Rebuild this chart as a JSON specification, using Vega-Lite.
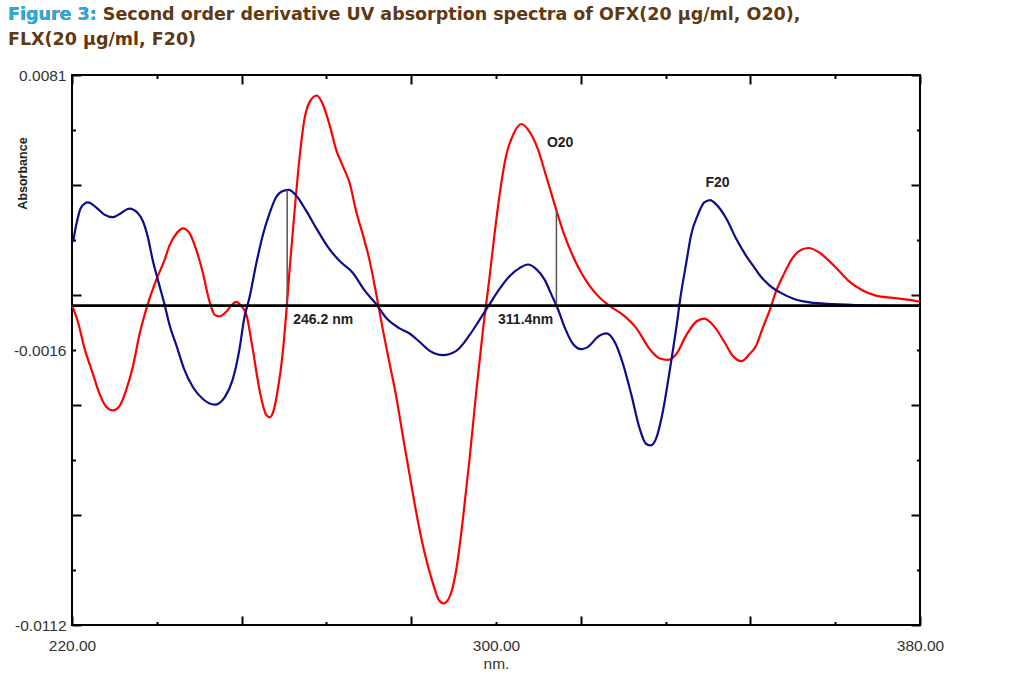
{
  "$schema": "https://vega.github.io/schema/vega-lite/v6.json",
  "width": 848,
  "height": 550,
  "autosize": {"type": "none"},
  "padding": {"left": 72, "top": 75, "right": 92, "bottom": 67},
  "background": "white",
  "config": {
    "view": {"stroke": "black", "strokeWidth": 2},
    "axis": {"domain": false, "grid": false, "tickColor": "black", "tickWidth": 2}
  },
  "title": {
    "text": ["Figure 3: Second order derivative UV absorption spectra of OFX(20 μg/ml, O20),", "FLX(20 μg/ml, F20)"],
    "subtitle": "Figure 3:",
    "anchor": "start",
    "frame": "group",
    "dx": -64,
    "offset": 20,
    "font": "DejaVu Sans",
    "fontSize": 17.5,
    "fontWeight": "bold",
    "color": "#603913",
    "lineHeight": 25,
    "subtitleFont": "DejaVu Sans",
    "subtitleFontSize": 17.5,
    "subtitleFontWeight": "bold",
    "subtitleColor": "#29abe2",
    "subtitleLineHeight": 25,
    "subtitlePadding": -42.5
  },
  "datasets": {
    "spectra": [
      {"series": "O20", "nm": 220.0, "abs": 0.00002},
      {"series": "O20", "nm": 221.1, "abs": -0.00055},
      {"series": "O20", "nm": 222.4, "abs": -0.00152},
      {"series": "O20", "nm": 223.9, "abs": -0.00236},
      {"series": "O20", "nm": 225.2, "abs": -0.00309},
      {"series": "O20", "nm": 226.5, "abs": -0.00355},
      {"series": "O20", "nm": 227.7, "abs": -0.00367},
      {"series": "O20", "nm": 229.0, "abs": -0.00351},
      {"series": "O20", "nm": 230.2, "abs": -0.00297},
      {"series": "O20", "nm": 231.5, "abs": -0.00212},
      {"series": "O20", "nm": 232.7, "abs": -0.00103},
      {"series": "O20", "nm": 234.3, "abs": 0.00006},
      {"series": "O20", "nm": 235.9, "abs": 0.00091},
      {"series": "O20", "nm": 237.5, "abs": 0.00163},
      {"series": "O20", "nm": 238.4, "abs": 0.00212},
      {"series": "O20", "nm": 239.7, "abs": 0.00254},
      {"series": "O20", "nm": 240.9, "abs": 0.00272},
      {"series": "O20", "nm": 242.2, "abs": 0.00254},
      {"series": "O20", "nm": 243.4, "abs": 0.00199},
      {"series": "O20", "nm": 244.7, "abs": 0.00115},
      {"series": "O20", "nm": 245.9, "abs": 0.00018},
      {"series": "O20", "nm": 246.9, "abs": -0.00031},
      {"series": "O20", "nm": 247.8, "abs": -0.00037},
      {"series": "O20", "nm": 249.1, "abs": -0.00021},
      {"series": "O20", "nm": 250.0, "abs": 0.0},
      {"series": "O20", "nm": 251.0, "abs": 0.00014},
      {"series": "O20", "nm": 251.9, "abs": 0.0},
      {"series": "O20", "nm": 252.9, "abs": -0.00031},
      {"series": "O20", "nm": 254.1, "abs": -0.00152},
      {"series": "O20", "nm": 255.4, "abs": -0.00297},
      {"series": "O20", "nm": 256.6, "abs": -0.00381},
      {"series": "O20", "nm": 257.3, "abs": -0.00391},
      {"series": "O20", "nm": 257.9, "abs": -0.00376},
      {"series": "O20", "nm": 258.8, "abs": -0.00297},
      {"series": "O20", "nm": 259.7, "abs": -0.00176},
      {"series": "O20", "nm": 260.4, "abs": -0.00031},
      {"series": "O20", "nm": 261.0, "abs": 0.00115},
      {"series": "O20", "nm": 262.0, "abs": 0.00333},
      {"series": "O20", "nm": 262.9, "abs": 0.00514},
      {"series": "O20", "nm": 263.9, "abs": 0.00659},
      {"series": "O20", "nm": 264.8, "abs": 0.00714},
      {"series": "O20", "nm": 266.2, "abs": 0.00738},
      {"series": "O20", "nm": 267.3, "abs": 0.00708},
      {"series": "O20", "nm": 268.6, "abs": 0.00635},
      {"series": "O20", "nm": 269.8, "abs": 0.0055},
      {"series": "O20", "nm": 271.1, "abs": 0.0049},
      {"series": "O20", "nm": 272.4, "abs": 0.0043},
      {"series": "O20", "nm": 273.6, "abs": 0.00333},
      {"series": "O20", "nm": 274.9, "abs": 0.00248},
      {"series": "O20", "nm": 276.1, "abs": 0.00163},
      {"series": "O20", "nm": 277.4, "abs": 0.00042},
      {"series": "O20", "nm": 278.6, "abs": -0.00079},
      {"series": "O20", "nm": 279.9, "abs": -0.002},
      {"series": "O20", "nm": 281.2, "abs": -0.00321},
      {"series": "O20", "nm": 282.4, "abs": -0.00454},
      {"series": "O20", "nm": 283.7, "abs": -0.00593},
      {"series": "O20", "nm": 284.9, "abs": -0.0072},
      {"series": "O20", "nm": 286.5, "abs": -0.00865},
      {"series": "O20", "nm": 288.1, "abs": -0.00974},
      {"series": "O20", "nm": 289.3, "abs": -0.01035},
      {"series": "O20", "nm": 290.1, "abs": -0.01044},
      {"series": "O20", "nm": 291.2, "abs": -0.01023},
      {"series": "O20", "nm": 292.5, "abs": -0.00926},
      {"series": "O20", "nm": 293.7, "abs": -0.00757},
      {"series": "O20", "nm": 295.0, "abs": -0.00539},
      {"series": "O20", "nm": 296.3, "abs": -0.00297},
      {"series": "O20", "nm": 297.5, "abs": -0.00091},
      {"series": "O20", "nm": 298.8, "abs": 0.00103},
      {"series": "O20", "nm": 299.7, "abs": 0.00248},
      {"series": "O20", "nm": 300.7, "abs": 0.00393},
      {"series": "O20", "nm": 301.9, "abs": 0.00526},
      {"series": "O20", "nm": 303.2, "abs": 0.00599},
      {"series": "O20", "nm": 304.8, "abs": 0.00638},
      {"series": "O20", "nm": 306.3, "abs": 0.00611},
      {"series": "O20", "nm": 307.9, "abs": 0.0055},
      {"series": "O20", "nm": 309.5, "abs": 0.00453},
      {"series": "O20", "nm": 311.4, "abs": 0.00335},
      {"series": "O20", "nm": 312.9, "abs": 0.00248},
      {"series": "O20", "nm": 314.5, "abs": 0.00175},
      {"series": "O20", "nm": 315.8, "abs": 0.00126},
      {"series": "O20", "nm": 317.6, "abs": 0.00072},
      {"series": "O20", "nm": 319.5, "abs": 0.0003},
      {"series": "O20", "nm": 321.4, "abs": 0.0},
      {"series": "O20", "nm": 323.9, "abs": -0.00031},
      {"series": "O20", "nm": 326.5, "abs": -0.00079},
      {"series": "O20", "nm": 329.0, "abs": -0.00152},
      {"series": "O20", "nm": 330.9, "abs": -0.00185},
      {"series": "O20", "nm": 332.4, "abs": -0.0019},
      {"series": "O20", "nm": 334.0, "abs": -0.0017},
      {"series": "O20", "nm": 335.9, "abs": -0.00103},
      {"series": "O20", "nm": 337.8, "abs": -0.00055},
      {"series": "O20", "nm": 339.3, "abs": -0.00045},
      {"series": "O20", "nm": 341.2, "abs": -0.00073},
      {"series": "O20", "nm": 343.1, "abs": -0.00127},
      {"series": "O20", "nm": 344.7, "abs": -0.00176},
      {"series": "O20", "nm": 346.3, "abs": -0.00194},
      {"series": "O20", "nm": 347.8, "abs": -0.0017},
      {"series": "O20", "nm": 349.1, "abs": -0.00139},
      {"series": "O20", "nm": 350.3, "abs": -0.00079},
      {"series": "O20", "nm": 351.6, "abs": -0.00018},
      {"series": "O20", "nm": 352.9, "abs": 0.00054},
      {"series": "O20", "nm": 354.1, "abs": 0.00103},
      {"series": "O20", "nm": 356.0, "abs": 0.00169},
      {"series": "O20", "nm": 357.6, "abs": 0.00197},
      {"series": "O20", "nm": 359.0, "abs": 0.00203},
      {"series": "O20", "nm": 361.0, "abs": 0.00187},
      {"series": "O20", "nm": 362.9, "abs": 0.00157},
      {"series": "O20", "nm": 364.8, "abs": 0.00121},
      {"series": "O20", "nm": 366.7, "abs": 0.00085},
      {"series": "O20", "nm": 369.2, "abs": 0.00054},
      {"series": "O20", "nm": 371.7, "abs": 0.00036},
      {"series": "O20", "nm": 374.9, "abs": 0.00028},
      {"series": "O20", "nm": 378.0, "abs": 0.00021},
      {"series": "O20", "nm": 380.0, "abs": 0.00014},
      {"series": "F20", "nm": 220.2, "abs": 0.00224},
      {"series": "F20", "nm": 220.8, "abs": 0.00284},
      {"series": "F20", "nm": 221.7, "abs": 0.00345},
      {"series": "F20", "nm": 223.0, "abs": 0.00363},
      {"series": "F20", "nm": 224.6, "abs": 0.00345},
      {"series": "F20", "nm": 226.1, "abs": 0.0032},
      {"series": "F20", "nm": 227.7, "abs": 0.00311},
      {"series": "F20", "nm": 229.3, "abs": 0.00326},
      {"series": "F20", "nm": 230.8, "abs": 0.00341},
      {"series": "F20", "nm": 232.4, "abs": 0.00326},
      {"series": "F20", "nm": 233.4, "abs": 0.00296},
      {"series": "F20", "nm": 234.3, "abs": 0.00242},
      {"series": "F20", "nm": 235.2, "abs": 0.00163},
      {"series": "F20", "nm": 236.2, "abs": 0.00091},
      {"series": "F20", "nm": 237.5, "abs": 0.00002},
      {"series": "F20", "nm": 238.4, "abs": -0.00067},
      {"series": "F20", "nm": 239.7, "abs": -0.00139},
      {"series": "F20", "nm": 241.2, "abs": -0.00224},
      {"series": "F20", "nm": 242.8, "abs": -0.00285},
      {"series": "F20", "nm": 244.7, "abs": -0.00327},
      {"series": "F20", "nm": 246.9, "abs": -0.00347},
      {"series": "F20", "nm": 248.8, "abs": -0.00321},
      {"series": "F20", "nm": 250.3, "abs": -0.0026},
      {"series": "F20", "nm": 251.6, "abs": -0.00152},
      {"series": "F20", "nm": 252.5, "abs": -0.00043},
      {"series": "F20", "nm": 253.5, "abs": 0.0003},
      {"series": "F20", "nm": 254.8, "abs": 0.00151},
      {"series": "F20", "nm": 256.0, "abs": 0.00248},
      {"series": "F20", "nm": 257.3, "abs": 0.00326},
      {"series": "F20", "nm": 258.5, "abs": 0.00381},
      {"series": "F20", "nm": 259.8, "abs": 0.00403},
      {"series": "F20", "nm": 260.9, "abs": 0.00407},
      {"series": "F20", "nm": 262.3, "abs": 0.00387},
      {"series": "F20", "nm": 264.2, "abs": 0.00333},
      {"series": "F20", "nm": 266.1, "abs": 0.00272},
      {"series": "F20", "nm": 268.3, "abs": 0.00206},
      {"series": "F20", "nm": 270.5, "abs": 0.00157},
      {"series": "F20", "nm": 273.0, "abs": 0.00115},
      {"series": "F20", "nm": 275.2, "abs": 0.00054},
      {"series": "F20", "nm": 277.4, "abs": 0.00006},
      {"series": "F20", "nm": 279.3, "abs": -0.00043},
      {"series": "F20", "nm": 281.8, "abs": -0.00079},
      {"series": "F20", "nm": 283.7, "abs": -0.00097},
      {"series": "F20", "nm": 285.6, "abs": -0.00127},
      {"series": "F20", "nm": 287.5, "abs": -0.00158},
      {"series": "F20", "nm": 290.0, "abs": -0.00173},
      {"series": "F20", "nm": 292.5, "abs": -0.00158},
      {"series": "F20", "nm": 295.0, "abs": -0.00103},
      {"series": "F20", "nm": 296.9, "abs": -0.00049},
      {"series": "F20", "nm": 298.8, "abs": 0.00006},
      {"series": "F20", "nm": 300.7, "abs": 0.0006},
      {"series": "F20", "nm": 302.5, "abs": 0.00103},
      {"series": "F20", "nm": 304.5, "abs": 0.00133},
      {"series": "F20", "nm": 306.0, "abs": 0.00145},
      {"series": "F20", "nm": 307.6, "abs": 0.00129},
      {"series": "F20", "nm": 309.2, "abs": 0.00091},
      {"series": "F20", "nm": 310.4, "abs": 0.00042},
      {"series": "F20", "nm": 311.7, "abs": -0.00012},
      {"series": "F20", "nm": 312.9, "abs": -0.00073},
      {"series": "F20", "nm": 314.5, "abs": -0.00133},
      {"series": "F20", "nm": 316.1, "abs": -0.00152},
      {"series": "F20", "nm": 317.3, "abs": -0.00145},
      {"series": "F20", "nm": 319.2, "abs": -0.00109},
      {"series": "F20", "nm": 320.8, "abs": -0.00097},
      {"series": "F20", "nm": 322.4, "abs": -0.00127},
      {"series": "F20", "nm": 323.9, "abs": -0.002},
      {"series": "F20", "nm": 325.5, "abs": -0.00309},
      {"series": "F20", "nm": 327.1, "abs": -0.0043},
      {"series": "F20", "nm": 328.3, "abs": -0.00484},
      {"series": "F20", "nm": 329.2, "abs": -0.0049},
      {"series": "F20", "nm": 330.2, "abs": -0.00466},
      {"series": "F20", "nm": 331.5, "abs": -0.00369},
      {"series": "F20", "nm": 332.7, "abs": -0.00236},
      {"series": "F20", "nm": 334.0, "abs": -0.00079},
      {"series": "F20", "nm": 334.9, "abs": 0.00042},
      {"series": "F20", "nm": 335.9, "abs": 0.00151},
      {"series": "F20", "nm": 336.8, "abs": 0.00248},
      {"series": "F20", "nm": 338.1, "abs": 0.0032},
      {"series": "F20", "nm": 339.3, "abs": 0.00363},
      {"series": "F20", "nm": 340.4, "abs": 0.00371},
      {"series": "F20", "nm": 341.5, "abs": 0.00357},
      {"series": "F20", "nm": 343.4, "abs": 0.00308},
      {"series": "F20", "nm": 345.3, "abs": 0.00236},
      {"series": "F20", "nm": 347.2, "abs": 0.00175},
      {"series": "F20", "nm": 348.8, "abs": 0.00133},
      {"series": "F20", "nm": 349.7, "abs": 0.00109},
      {"series": "F20", "nm": 351.6, "abs": 0.00072},
      {"series": "F20", "nm": 353.5, "abs": 0.00048},
      {"series": "F20", "nm": 356.0, "abs": 0.00026},
      {"series": "F20", "nm": 359.2, "abs": 0.00012},
      {"series": "F20", "nm": 363.5, "abs": 0.00006},
      {"series": "F20", "nm": 369.8, "abs": 0.00002},
      {"series": "F20", "nm": 380.0, "abs": 0.0}
    ],
    "markers": [
      {"nm": 260.6, "top": 0.00407, "bottom": 0},
      {"nm": 311.4, "top": 0.0033, "bottom": 0}
    ],
    "labels": [
      {"nm": 267.4, "abs": -0.0005, "text": "246.2 nm"},
      {"nm": 305.6, "abs": -0.0005, "text": "311.4nm"},
      {"nm": 312.1, "abs": 0.00571, "text": "O20"},
      {"nm": 341.8, "abs": 0.00432, "text": "F20"}
    ]
  },
  "resolve": {"axis": {"x": "independent", "y": "independent"}},
  "layer": [
    {
      "data": {"name": "spectra"},
      "mark": {"type": "line", "strokeWidth": 2.2, "interpolate": "monotone"},
      "encoding": {
        "x": {"field": "nm", "type": "quantitative",
              "scale": {"domain": [220, 380], "nice": false, "zero": false},
              "axis": {
                "orient": "bottom",
                "title": "nm.",
                "titleFont": "Liberation Sans", "titleFontSize": 15.5, "titleFontWeight": "normal",
                "titleColor": "#333333", "titleBaseline": "alphabetic", "titleY": 43,
                "values": [220, 236, 252, 268, 284, 300, 316, 332, 348, 364, 380],
                "labelExpr": "datum.value == 220 || datum.value == 300 || datum.value == 380 ? format(datum.value, '.2f') : ''",
                "labelFont": "Liberation Sans", "labelFontSize": 15.5, "labelColor": "#333333",
                "labelFlush": false, "labelOverlap": false,
                "tickSize": {"condition": {"test": "(datum.value - 220) % 32 == 0", "value": -9}, "value": -3.5},
                "labelPadding": {"condition": {"test": "(datum.value - 220) % 32 == 0", "value": 22}, "value": 16.5}
              }},
        "y": {"field": "abs", "type": "quantitative",
              "scale": {"domain": [-0.0112, 0.0081], "nice": false, "zero": false},
              "axis": {
                "orient": "left",
                "title": "Absorbance",
                "titleFont": "Liberation Sans", "titleFontSize": 12.5, "titleFontWeight": "bold",
                "titleColor": "#222222", "titleBaseline": "alphabetic", "titleAngle": 270,
                "titleX": -46, "titleY": 98, "titleAlign": "center",
                "values": [0.0081, 0.00617, 0.00424, 0.00231, 0.00038, -0.00155, -0.00348, -0.00541, -0.00734, -0.00927, -0.0112],
                "labelExpr": "abs(datum.value - 0.0081) < 1e-6 ? '0.0081' : abs(datum.value + 0.00155) < 1e-6 ? '-0.0016' : abs(datum.value + 0.0112) < 1e-6 ? '-0.0112' : ''",
                "labelFont": "Liberation Sans", "labelFontSize": 15.5, "labelColor": "#333333",
                "labelOverlap": false, "labelFlush": false,
                "tickSize": {"condition": {"test": "round((0.0081 - datum.value) / 0.00193) % 2 == 0", "value": -9}, "value": -3.5},
                "labelPadding": {"condition": {"test": "round((0.0081 - datum.value) / 0.00193) % 2 == 0", "value": 15}, "value": 9.5}
              }},
        "color": {"field": "series", "type": "nominal", "legend": null,
                  "scale": {"domain": ["O20", "F20"], "range": ["#ff0000", "#0c0c8c"]}}
      }
    },
    {
      "data": {"name": "labels"},
      "mark": {"type": "text", "font": "Liberation Sans", "fontSize": 14, "fontWeight": "bold", "color": "#222222", "align": "center", "baseline": "middle"},
      "encoding": {
        "x": {"field": "nm", "type": "quantitative",
              "axis": {
                "orient": "top", "title": null, "labels": false,
                "values": [220, 236, 252, 268, 284, 300, 316, 332, 348, 364, 380],
                "tickSize": {"condition": {"test": "(datum.value - 220) % 32 == 0", "value": -9}, "value": -3.5}
              }},
        "y": {"field": "abs", "type": "quantitative",
              "axis": {
                "orient": "right", "title": null, "labels": false,
                "values": [0.0081, 0.00617, 0.00424, 0.00231, 0.00038, -0.00155, -0.00348, -0.00541, -0.00734, -0.00927, -0.0112],
                "tickSize": {"condition": {"test": "round((0.0081 - datum.value) / 0.00193) % 2 == 0", "value": -9}, "value": -3.5}
              }},
        "text": {"field": "text", "type": "nominal"}
      }
    },
    {
      "data": {"name": "markers"},
      "mark": {"type": "rule", "color": "#555555", "strokeWidth": 1.5},
      "encoding": {
        "x": {"field": "nm", "type": "quantitative", "axis": null},
        "y": {"field": "top", "type": "quantitative", "axis": null},
        "y2": {"field": "bottom"}
      }
    },
    {
      "data": {"name": "markers"},
      "mark": {"type": "rule", "color": "black", "strokeWidth": 2.5},
      "encoding": {
        "y": {"field": "bottom", "type": "quantitative", "axis": null}
      }
    }
  ]
}
